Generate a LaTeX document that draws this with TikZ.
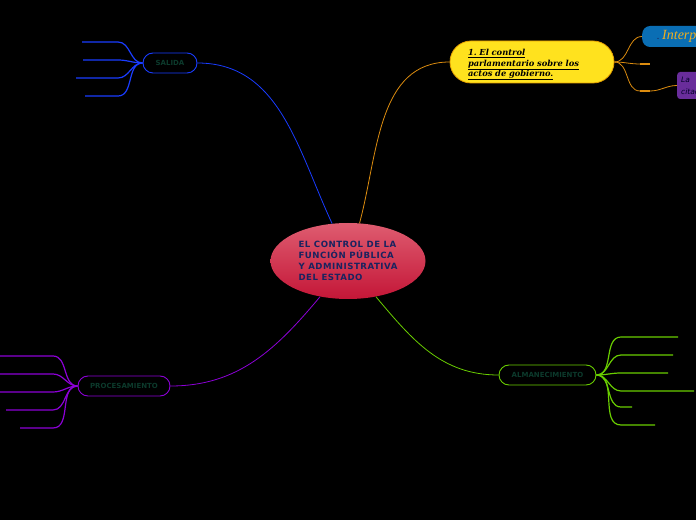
\documentclass[tikz,border=0pt]{standalone}
\usepackage{fontspec}
\setmainfont{Liberation Serif}
\setsansfont{DejaVu Sans}
\newfontfamily\ctrlfont{DejaVu Serif}
\usetikzlibrary{shapes.geometric}
\definecolor{salblue}{RGB}{25,60,255}
\definecolor{procvio}{RGB}{140,0,215}
\definecolor{almgreen}{RGB}{105,205,0}
\definecolor{ctrlorange}{RGB}{220,140,15}
\definecolor{ctrlfill}{RGB}{255,226,30}
\definecolor{ctrlborder}{RGB}{230,160,0}
\definecolor{txtgreen}{RGB}{12,58,44}
\definecolor{txtnavy}{RGB}{25,35,95}
\definecolor{intblue}{RGB}{10,110,180}
\definecolor{intgold}{RGB}{240,175,30}
\definecolor{citvio}{RGB}{105,45,155}
\frenchspacing
\begin{document}
\begin{tikzpicture}[x=1pt,y=1pt,
  branch/.style={line width=1.2pt},
  link/.style={line width=0.8pt},
  pill/.style={draw,fill=black,rounded corners=10pt,line width=0.9pt,minimum height=20pt,inner sep=0pt,
    font=\sffamily\bfseries\fontsize{7}{8}\selectfont,text=txtgreen}]
  \fill[black] (0,0) rectangle (696,520);
  \useasboundingbox (0,0) rectangle (696,520);
  % main topic
  \node[ellipse,minimum width=155pt,minimum height=76pt,inner sep=0pt,top color={rgb,255:red,222;green,92;blue,112},
    bottom color={rgb,255:red,196;green,22;blue,55},align=left,text=txtnavy,
    font=\sffamily\bfseries\fontsize{8.6}{11}\selectfont\addfontfeature{LetterSpace=6}] (main) at (348,259)
    {EL CONTROL DE LA\\FUNCIÓN PÚBLICA\\Y ADMINISTRATIVA\\DEL ESTADO};
  % subtopics
  \node[pill,draw=salblue,minimum width=54pt] (sal) at (170,457) {SALIDA};
  \node[pill,draw=procvio,minimum width=92pt] (proc) at (124,134) {PROCESAMIENTO};
  \node[pill,draw=almgreen,minimum width=97pt] (alm) at (547.5,145) {ALMANECIMIENTO};
  \node[draw=ctrlborder,fill=ctrlfill,rounded corners=21pt,line width=0.8pt,minimum width=164pt,minimum height=42pt,
    text width=128pt,align=left,inner sep=0pt,font=\ctrlfont\bfseries\itshape\fontsize{8.3}{10.3}\selectfont] (ctrl) at (532,458)
    {\rule{0pt}{12pt}\underline{1. El control}\\\underline{parlamentario sobre los}\\\underline{actos de gobierno.}};
  \node[fill=intblue,rounded corners=8pt,anchor=west,minimum width=80pt,minimum height=21pt,inner sep=0pt,
    text width=66pt,align=left] (interp) at (642,483.5)
    {\hspace*{8pt}{\color{txtnavy}\bfseries\fontsize{8}{8}\selectfont.}\hspace{3pt}{\color{intgold}\itshape\fontsize{14}{15}\selectfont Interp}};
  \node[fill=citvio,rounded corners=3pt,anchor=west,minimum width=40pt,minimum height=27pt,inner sep=0pt,
    text width=32pt,align=left,text=black!85!blue,font=\sffamily\itshape\fontsize{7.5}{12}\selectfont] (cita) at (677,434.5)
    {La\\citac};
  % connectors to main
  \draw[link,salblue] (sal.east) to[out=0,in=115] (main.113);
  \draw[link,ctrlorange] (main.73) to[out=75,in=180] (ctrl.west);
  \draw[link,procvio] (main.232) to[out=230,in=0] (proc.east);
  \draw[link,almgreen] (main.308) to[out=-50,in=180] (alm.west);
  % branches
  \foreach \x/\y [count=\i] in {82/478,83/460,76/442,85/424}{
    \coordinate (sal-\i) at (\x,\y);
    \draw[branch,salblue] (sal.west) to[out=180,in=0] (118,\y) -- (sal-\i);
  }
  \foreach \x/\y [count=\i] in {0/164,0/146,0/128,6/110,20/92}{
    \coordinate (proc-\i) at (\x,\y);
    \draw[branch,procvio] (proc.west) to[out=180,in=0] (53,\y) -- (proc-\i);
  }
  \foreach \x/\y [count=\i] in {678/183,673/165,668/147,694/129,632/113,655/95}{
    \coordinate (alm-\i) at (\x,\y);
    \draw[branch,almgreen] (alm.east) to[out=0,in=180] (621,\y) -- (alm-\i);
  }
  \coordinate (stub) at (650,456);
  \coordinate (low) at (650,429);
  \draw[link,ctrlorange] (ctrl.east) to[out=0,in=180] (interp.west);
  \draw[link,ctrlorange] (ctrl.east) to[out=0,in=180] (640,456);
  \draw[branch,ctrlorange] (640,456) -- (stub);
  \draw[link,ctrlorange] (ctrl.east) to[out=0,in=180] (640,429);
  \draw[branch,ctrlorange] (640,429) -- (low);
  \draw[link,ctrlorange] (low) to[out=0,in=180] (cita.west);
\end{tikzpicture}
\end{document}
